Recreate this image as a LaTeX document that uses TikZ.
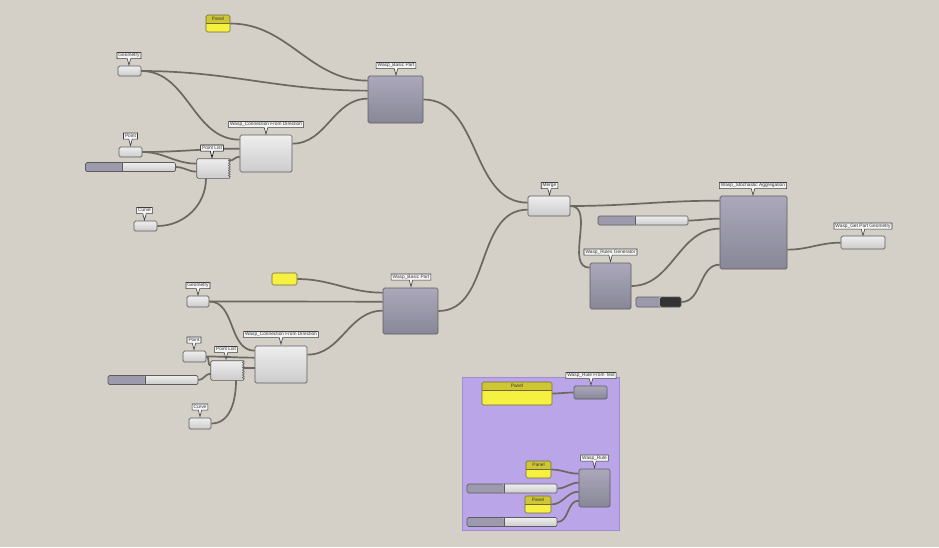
\documentclass[tikz,border=0pt]{standalone}
\usepackage{fontspec}
\setmainfont{Liberation Sans}
\usetikzlibrary{shapes.callouts,decorations.pathmorphing}

\definecolor{canvas}{RGB}{212,208,200}
\definecolor{wirec}{RGB}{108,104,96}
\definecolor{edgec}{RGB}{92,92,92}
\definecolor{lighttop}{RGB}{238,238,238}
\definecolor{lightbot}{RGB}{204,204,204}
\definecolor{darktop}{RGB}{170,168,186}
\definecolor{darkbot}{RGB}{136,135,152}
\definecolor{slidedark}{RGB}{156,154,172}
\definecolor{paneltop}{RGB}{206,198,52}
\definecolor{panelbot}{RGB}{246,241,64}
\definecolor{paneledge}{RGB}{110,106,60}
\definecolor{groupfill}{RGB}{187,165,233}
\definecolor{groupedge}{RGB}{160,140,210}
\definecolor{tagfill}{RGB}{244,244,244}
\definecolor{tagedge}{RGB}{60,60,60}
\definecolor{tagtext}{RGB}{55,55,55}

\begin{document}
\begin{tikzpicture}[
    x = 1pt, y = -1pt,
    wh/.style 2 args = {minimum width=#1pt, minimum height=#2pt},
    comp/.style = {draw=edgec, line width=0.7pt, rounded corners=1.5pt, inner sep=0pt,
        top color=lighttop, bottom color=lightbot},
    wasp/.style = {comp, top color=darktop, bottom color=darkbot},
    plist/.style = {comp, draw=none},
    slider/.style = {comp, wh={90}{9}, path picture={
        \fill[slidedark] (path picture bounding box.south west) rectangle ([xshift=37pt]path picture bounding box.north west);
        \draw[edgec, line width=0.5pt] ([xshift=37pt]path picture bounding box.south west) -- ([xshift=37pt]path picture bounding box.north west);}},
    toggle/.style = {comp, wh={45}{10}, path picture={
        \fill[slidedark] (path picture bounding box.south west) rectangle ([xshift=24pt]path picture bounding box.north west);
        \fill[black!80] ([xshift=24pt]path picture bounding box.south west) rectangle (path picture bounding box.north east);}},
    panel/.style = {draw=paneledge, line width=0.6pt, rounded corners=1.5pt, inner sep=0pt, fill=panelbot, path picture={
        \fill[paneltop] (path picture bounding box.north west) rectangle ([yshift=-8.5pt]path picture bounding box.north east);
        \draw[paneledge, line width=0.5pt] ([yshift=-8.5pt]path picture bounding box.north west) -- ([yshift=-8.5pt]path picture bounding box.north east);}},
    wire/.style = {draw=wirec, line width=1.7pt, out=0, in=180},
    tag/.style = {rectangle callout, draw=tagedge, fill=tagfill, line width=0.6pt, text=tagtext,
        font=\fontsize{4.8}{5}\selectfont, inner xsep=1.5pt, inner ysep=0.8pt,
        text height=3.5pt, text depth=1pt,
        callout relative pointer={(0,-6.5pt)}, callout pointer width=3.5pt},
    ptext/.style = {font=\fontsize{4.8}{5}\selectfont, text=tagtext, inner sep=0pt}]

\fill[canvas] (0,0) rectangle (939,547);
\useasboundingbox (0,0) rectangle (939,547);

% group
\draw[groupedge, fill=groupfill, line width=0.8pt] (462,377) rectangle (619,530);

% upper part
\node[panel, wh={24}{17}] (pnlA) at (218,23.5) {};
\node[comp, wh={23}{10}] (geoA) at (129.5,71) {};
\node[wasp, wh={55}{47}] (bpA) at (395.5,99.5) {};
\node[comp, wh={52}{37}] (cdA) at (266,153.5) {};
\node[comp, wh={23}{10}] (ptA) at (130.5,152) {};
\node[slider] (sldA) at (130.5,167) {};
\node[plist, wh={32}{19}] (plA) at (213,168.5) {};
\node[comp, wh={23}{10}] (crvA) at (145.5,226) {};

% lower part
\node[fill=panelbot, draw=paneledge, line width=0.6pt, rounded corners=1.5pt, wh={25}{12}] (pnlB) at (284.5,279) {};
\node[comp, wh={22}{11}] (geoB) at (198,301.5) {};
\node[wasp, wh={55}{46}] (bpB) at (410.5,311) {};
\node[comp, wh={52}{37}] (cdB) at (281,364.5) {};
\node[comp, wh={23}{11}] (ptB) at (194.5,356.5) {};
\node[slider] (sldB) at (153,380) {};
\node[plist, wh={32}{19}] (plB) at (227,370.5) {};
\node[comp, wh={22}{11}] (crvB) at (200,423.5) {};

% aggregation
\node[comp, wh={42}{20}] (mrg) at (549,206) {};
\node[slider] (sldC) at (643,220.5) {};
\node[wasp, wh={67}{73}] (agg) at (753.5,232.5) {};
\node[wasp, wh={41}{46}] (rgen) at (610.5,286) {};
\node[toggle] (tgl) at (658.5,302) {};
\node[comp, wh={44}{13}] (gpg) at (863,242.5) {};

% rules
\node[panel, wh={70}{23}] (pnlC) at (517,393.5) {};
\node[wasp, wh={33}{13}] (rft) at (590.5,392.5) {};
\node[wasp, wh={31}{38}] (rule) at (594.5,488) {};
\node[panel, wh={25}{17}] (pnlD) at (538.5,469.5) {};
\node[slider] (sldD) at (512,488.5) {};
\node[panel, wh={26}{17}] (pnlE) at (538,504.5) {};
\node[slider] (sldE) at (512,522) {};

% point list borders
\foreach \p in {plA,plB} {
  \draw[edgec, line width=0.7pt, rounded corners=1.5pt] (\p.north east) -- (\p.north west) -- (\p.south west) -- (\p.south east);
  \draw[edgec, line width=0.6pt, decorate, decoration={zigzag, segment length=2.5pt, amplitude=0.9pt}] (\p.north east) -- (\p.south east);
}

% wires
\draw[wire] (pnlA.east) to ([yshift=-5pt]bpA.north west);
\draw[wire] (geoA.east) to ([yshift=-15pt]bpA.north west);
\draw[wire] ([yshift=-9pt]cdA.north east) to ([yshift=-23pt]bpA.north west);
\draw[wire] (geoA.east) to ([yshift=-5pt]cdA.north west);
\draw[wire] (ptA.east) to ([yshift=-14pt]cdA.north west);
\draw[wire] (ptA.east) to ([yshift=-5pt]plA.north west);
\draw[wire] (sldA.east) to ([yshift=-13pt]plA.north west);
\draw[wire, in=-90] (crvA.east) to ([xshift=-7pt]plA.south);
\draw[wire] ([yshift=-2pt]plA.north east) to ([yshift=-22pt]cdA.north west);
\draw[wire] (bpA.east) to ([yshift=-7pt]mrg.north west);

\draw[wire] (pnlB.east) to ([yshift=-5pt]bpB.north west);
\draw[wire] (geoB.east) to ([yshift=-14pt]bpB.north west);
\draw[wire] ([yshift=-9pt]cdB.north east) to ([yshift=-23pt]bpB.north west);
\draw[wire] (geoB.east) to ([yshift=-5pt]cdB.north west);
\draw[wire] (ptB.east) to ([yshift=-12pt]cdB.north west);
\draw[wire] (ptB.east) to ([yshift=-5pt]plB.north west);
\draw[wire] (sldB.east) to ([yshift=-13pt]plB.north west);
\draw[wire] ([yshift=-7pt]plB.north east) to ([yshift=-22pt]cdB.north west);
\draw[wire, in=-90] (crvB.east) to ([xshift=9pt]plB.south);
\draw[wire] (bpB.east) to ([yshift=-14pt]mrg.north west);

\draw[wire] (mrg.east) to ([yshift=-5pt]agg.north west);
\draw[wire] (mrg.east) to ([yshift=-5pt]rgen.north west);
\draw[wire] (sldC.east) to ([yshift=-23pt]agg.north west);
\draw[wire] (rgen.east) to ([yshift=-33pt]agg.north west);
\draw[wire] (tgl.east) to ([yshift=-69pt]agg.north west);
\draw[wire] ([yshift=-54pt]agg.north east) to ([yshift=-7pt]gpg.north west);

\draw[wire] (pnlC.east) to (rft.west);
\draw[wire] (pnlD.east) to ([yshift=-5pt]rule.north west);
\draw[wire] (sldD.east) to ([yshift=-14pt]rule.north west);
\draw[wire] (pnlE.east) to ([yshift=-23pt]rule.north west);
\draw[wire] (sldE.east) to ([yshift=-32pt]rule.north west);

% labels
\node[tag] (tgeoA) at (129,55.5) {Geometry};
\node[tag] (tbpA) at (396,65.5) {Wasp\_Basic Part};
\node[tag] (tcdA) at (266,124.5) {Wasp\_Connection From Direction};
\node[tag] (tptA) at (130.5,136) {Point};
\node[tag, draw=black] (tplA) at (212,148) {Point List};
\node[tag] (tcrvA) at (144.5,210.5) {Curve};

\node[tag] (tgeoB) at (198,285.5) {Geometry};
\node[tag] (tbpB) at (411,277) {Wasp\_Basic Part};
\node[tag] (tcdB) at (281,334.5) {Wasp\_Connection From Direction};
\node[tag] (tptB) at (194,340) {Point};
\node[tag] (tplB) at (226,349.5) {Point List};
\node[tag] (tcrvB) at (200,407) {Curve};

\node[tag] (tmrg) at (549.5,185.5) {Merge};
\node[tag] (tagg) at (753,185.5) {Wasp\_Stochastic Aggregation};
\node[tag] (trgen) at (610.5,252) {Wasp\_Rules Generator};
\node[tag] (tgpg) at (863,226) {Wasp\_Get Part Geometry};
\node[tag] (trft) at (591,375.5) {Wasp\_Rule From Text};
\node[tag] (trule) at (594.5,458) {Wasp\_Rule};

\node[ptext] (tpnlA) at ([yshift=-4.25pt]pnlA.north) {Panel};
\node[ptext] (tpnlC) at ([yshift=-4.25pt]pnlC.north) {Panel};
\node[ptext] (tpnlD) at ([yshift=-4.25pt]pnlD.north) {Panel};
\node[ptext] (tpnlE) at ([yshift=-4.25pt]pnlE.north) {Panel};
\end{tikzpicture}
\end{document}
